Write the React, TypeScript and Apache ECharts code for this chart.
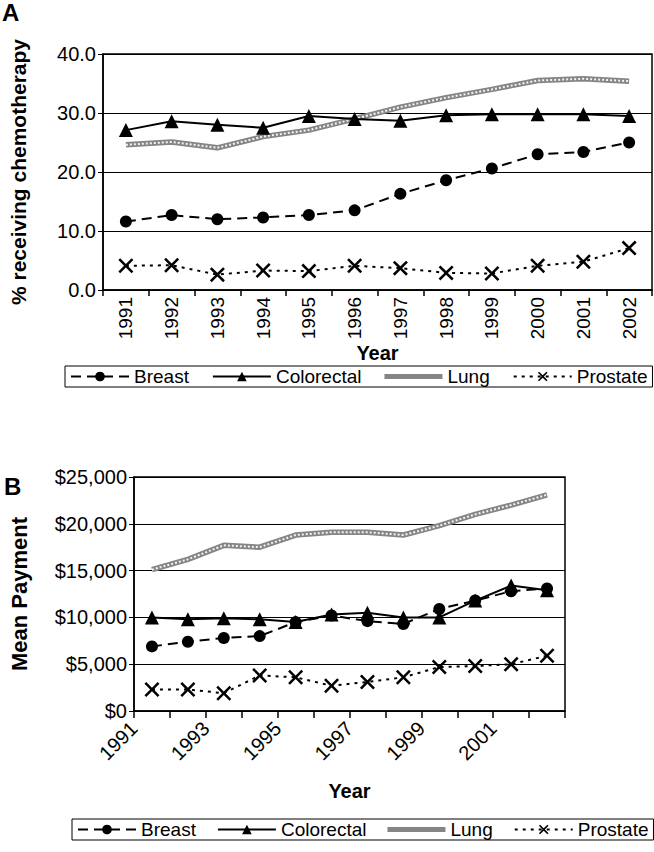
import React, { useEffect, useRef } from "react";
import * as echarts from "echarts";

const years = ["1991", "1992", "1993", "1994", "1995", "1996", "1997", "1998", "1999", "2000", "2001", "2002"];
const boundaryLabelsB = ["1991", "1992", "1993", "1994", "1995", "1996", "1997", "1998", "1999", "2000", "2001", "2002", ""];
const seriesNames = ["Breast", "Colorectal", "Lung", "Prostate"];

// Panel A: % receiving chemotherapy
const chemoBreast = [11.6, 12.7, 12.0, 12.3, 12.7, 13.5, 16.3, 18.6, 20.6, 23.0, 23.4, 25.0];
const chemoColorectal = [27.1, 28.6, 28.0, 27.5, 29.5, 29.0, 28.7, 29.6, 29.8, 29.8, 29.8, 29.5];
const chemoLung = [24.6, 25.1, 24.1, 26.0, 27.1, 29.0, 31.0, 32.6, 34.0, 35.5, 35.8, 35.4];
const chemoProstate = [4.1, 4.2, 2.6, 3.3, 3.2, 4.1, 3.7, 2.9, 2.8, 4.1, 4.8, 7.1];
const yTicksA = [0, 10, 20, 30, 40];

// Panel B: mean payment
const payBreast = [6900, 7400, 7800, 8000, 9500, 10200, 9600, 9300, 10900, 11800, 12800, 13100];
const payColorectal = [10000, 9800, 9900, 9800, 9500, 10300, 10500, 10000, 10000, 11800, 13400, 12900];
const payLung = [15100, 16200, 17700, 17500, 18800, 19100, 19100, 18800, 19800, 21000, 22000, 23100];
const payProstate = [2300, 2300, 1900, 3800, 3600, 2700, 3100, 3600, 4700, 4800, 5000, 5900];
const yTicksB = [0, 5000, 10000, 15000, 20000, 25000];

const FONT = "'Liberation Sans', Arial, sans-serif";
const XSYM = "path://M0,1.2 L1.2,0 L5,3.8 L8.8,0 L10,1.2 L6.2,5 L10,8.8 L8.8,10 L5,6.2 L1.2,10 L0,8.8 L3.8,5 Z";
const LUNG_ICON = "path://M0,0 H60 V5 H0 Z";

function makeSeries(xi: number, yi: number, b: number[], c: number[], l: number[], p: number[]) {
  return [
    {
      name: "Lung", type: "line", xAxisIndex: xi, yAxisIndex: yi, data: l, symbol: "none",
      lineStyle: { color: "#858585", width: 5.5 }, itemStyle: { color: "#858585" }, z: 2,
    },
    {
      name: "Lung", type: "line", xAxisIndex: xi, yAxisIndex: yi, data: l, symbol: "none",
      lineStyle: { color: "#f4f4f4", width: 2, type: [2, 2] }, itemStyle: { color: "#f4f4f4" }, z: 3,
    },
    {
      name: "Breast", type: "line", xAxisIndex: xi, yAxisIndex: yi, data: b, symbol: "circle", symbolSize: 12,
      lineStyle: { color: "#000", width: 2, type: [10, 6] }, itemStyle: { color: "#000" }, z: 4,
    },
    {
      name: "Colorectal", type: "line", xAxisIndex: xi, yAxisIndex: yi, data: c, symbol: "triangle", symbolSize: 14,
      lineStyle: { color: "#000", width: 2 }, itemStyle: { color: "#000" }, z: 5,
    },
    {
      name: "Prostate", type: "line", xAxisIndex: xi, yAxisIndex: yi, data: p, symbol: XSYM, symbolSize: 15,
      lineStyle: { color: "#000", width: 2, type: [3, 5] }, itemStyle: { color: "#000" }, z: 4,
    },
  ];
}

function legendOf(left: number, top: number, gap: number) {
  return {
    left, top, width: 640, orient: "horizontal", selectedMode: false,
    data: seriesNames.map((n) => (n === "Lung" ? { name: n, icon: LUNG_ICON } : { name: n })),
    borderColor: "#000", borderWidth: 1, padding: [1, 5],
    itemWidth: 58, itemHeight: 12, itemGap: gap,
    textStyle: { fontFamily: FONT, fontSize: 19, color: "#000" },
  };
}

export default function App() {
  const ref = useRef<HTMLDivElement>(null);
  useEffect(() => {
    document.body.style.margin = "0";
    const chart = echarts.init(ref.current!, null, { renderer: "svg" });
    const axisLine = { show: true, lineStyle: { color: "#000", width: 1.5 } };
    const titleStyle = { fontFamily: FONT, fontWeight: "bold", fontSize: 20, color: "#000" };
    chart.setOption({
      animation: false,
      backgroundColor: "#fff",
      textStyle: { fontFamily: FONT },
      grid: [
        { left: 100, top: 54, width: 552, height: 236, show: true, borderColor: "#000", borderWidth: 1.5, backgroundColor: "transparent" },
        { left: 130, top: 477, width: 435, height: 234, show: true, borderColor: "#000", borderWidth: 1.5, backgroundColor: "transparent" },
      ],
      xAxis: [
        {
          type: "category", gridIndex: 0, data: years, boundaryGap: true,
          axisLine, axisTick: { show: true, length: 6, lineStyle: { color: "#000", width: 1.5 } },
          axisLabel: { rotate: 90, margin: 7, fontSize: 19, color: "#000", fontFamily: FONT, interval: 0 },
          name: "Year", nameLocation: "middle", nameGap: 52,
          nameTextStyle: titleStyle,
        },
        {
          type: "category", gridIndex: 1, data: years, boundaryGap: true, show: false,
        },
        {
          type: "category", gridIndex: 1, data: boundaryLabelsB, boundaryGap: false, position: "bottom",
          axisLine, axisTick: { show: true, length: 7, interval: 0, lineStyle: { color: "#000", width: 1.5 } },
          axisLabel: {
            rotate: 45, margin: 14, fontSize: 20, color: "#000", fontFamily: FONT,
            interval: (i: number) => i % 2 === 0 && i < 12,
          },
          name: "Year", nameLocation: "middle", nameGap: 70,
          nameTextStyle: titleStyle,
        },
      ],
      yAxis: [
        {
          type: "value", gridIndex: 0, min: yTicksA[0], max: yTicksA[yTicksA.length - 1], interval: 10,
          axisLine, axisTick: { show: true, length: 5, lineStyle: { color: "#000" } },
          axisLabel: { formatter: (v: number) => v.toFixed(1), fontSize: 20, color: "#000", margin: 7, fontFamily: FONT },
          splitLine: { show: true, lineStyle: { color: "#000", width: 1.2 } },
          name: "% receiving chemotherapy", nameLocation: "middle", nameGap: 74, nameRotate: 90,
          nameTextStyle: { ...titleStyle, fontSize: 21 },
        },
        {
          type: "value", gridIndex: 1, min: yTicksB[0], max: yTicksB[yTicksB.length - 1], interval: 5000,
          axisLine, axisTick: { show: true, length: 5, lineStyle: { color: "#000" } },
          axisLabel: { formatter: (v: number) => "$" + v.toLocaleString("en-US"), fontSize: 20, color: "#000", margin: 7, fontFamily: FONT },
          splitLine: { show: true, lineStyle: { color: "#000", width: 1.2 } },
          name: "Mean Payment", nameLocation: "middle", nameGap: 104, nameRotate: 90,
          nameTextStyle: { ...titleStyle, fontSize: 22 },
        },
      ],
      legend: [legendOf(65, 366, 23), legendOf(72, 819, 21)],
      graphic: [
        { type: "text", left: 2, top: 0, style: { text: "A", fontFamily: FONT, fontWeight: "bold", fontSize: 24, fill: "#000" } },
        { type: "text", left: 4, top: 474, style: { text: "B", fontFamily: FONT, fontWeight: "bold", fontSize: 24, fill: "#000" } },
      ],
      series: [
        ...makeSeries(0, 0, chemoBreast, chemoColorectal, chemoLung, chemoProstate),
        ...makeSeries(1, 1, payBreast, payColorectal, payLung, payProstate),
      ],
    });
    return () => chart.dispose();
  }, []);
  return <div ref={ref} style={{ width: 654, height: 852 }} />;
}
